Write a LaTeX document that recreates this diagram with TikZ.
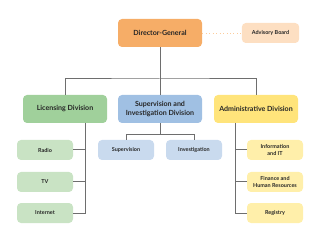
\documentclass[tikz,border=0pt]{standalone}
\usepackage{fontspec}
\setmainfont{Lato}
\usetikzlibrary{positioning, calc}

\definecolor{dgorange}{HTML}{F6AD67}
\definecolor{advorange}{HTML}{FDDFC2}
\definecolor{licgreen}{HTML}{A0D09B}
\definecolor{licgreenlt}{HTML}{C9E3C4}
\definecolor{supblue}{HTML}{A0C0E3}
\definecolor{supbluelt}{HTML}{C9DAEE}
\definecolor{admyellow}{HTML}{FFE47B}
\definecolor{admyellowlt}{HTML}{FFEFAA}
\definecolor{linegray}{HTML}{6E6E6E}

\tikzset{
  unit/.style={rounded corners=3pt, align=center, inner sep=0pt,
    font=\fontsize{5.3}{6.2}\selectfont\bfseries, text=black!85},
  head/.style={unit, minimum width=63pt, minimum height=21pt},
  division/.style={unit, minimum width=63pt, minimum height=21pt},
  section/.style={unit, minimum width=42pt, minimum height=15pt,
    font=\fontsize{4.1}{5.5}\selectfont\bfseries},
  link/.style={draw=linegray, line width=0.75pt},
}

\begin{document}
\begin{tikzpicture}[x=0.75pt, y=-0.75pt]
  \useasboundingbox (0,0) rectangle (320,245);
  % top level
  \node[head, fill=dgorange] (dg) at (160,33) {Director-General};
  \node[section, fill=advorange, minimum width=43pt] (adv) at (270.5,33) {Advisory Board};
  \draw[advorange!80!orange, dotted, line width=0.6pt] (dg.east) -- (adv.west);
  % divisions
  \node[division, fill=licgreen] (lic) at (65,109) {Licensing Division};
  \node[division, fill=supblue] (sup) at (160,109) {Supervision and\\Investigation Division};
  \node[division, fill=admyellow] (adm) at (256,109) {Administrative Division};
  \coordinate (bar) at (160,79);
  \draw[link] (dg.south) -- (bar);
  \draw[link] (lic.north) |- (bar) -| (adm.north);
  \draw[link] (bar) -- (sup.north);
  % licensing sections
  \node[section, fill=licgreenlt] (radio) at (45,150) {Radio};
  \node[section, fill=licgreenlt] (tv) at (45,182) {TV};
  \node[section, fill=licgreenlt] (inet) at (45,213) {Internet};
  \coordinate (lictrunk) at (85,123);
  \draw[link] (lictrunk) |- (inet.east);
  \draw[link] (radio.east) -- (radio.east -| lictrunk);
  \draw[link] (tv.east) -- (tv.east -| lictrunk);
  % supervision sections
  \node[section, fill=supbluelt] (supv) at (126,150) {Supervision};
  \node[section, fill=supbluelt] (inv) at (194,150) {Investigation};
  \coordinate (subbar) at (160,134.5);
  \draw[link] (sup.south) -- (subbar);
  \draw[link] (supv.north) |- (subbar) -| (inv.north);
  % administrative sections
  \node[section, fill=admyellowlt] (info) at (275,150) {Information\\and IT};
  \node[section, fill=admyellowlt] (fin) at (275,182) {Finance and\\Human Resources};
  \node[section, fill=admyellowlt] (reg) at (275,213) {Registry};
  \coordinate (admtrunk) at (235,123);
  \draw[link] (admtrunk) |- (reg.west);
  \draw[link] (info.west) -- (info.west -| admtrunk);
  \draw[link] (fin.west) -- (fin.west -| admtrunk);
\end{tikzpicture}
\end{document}
